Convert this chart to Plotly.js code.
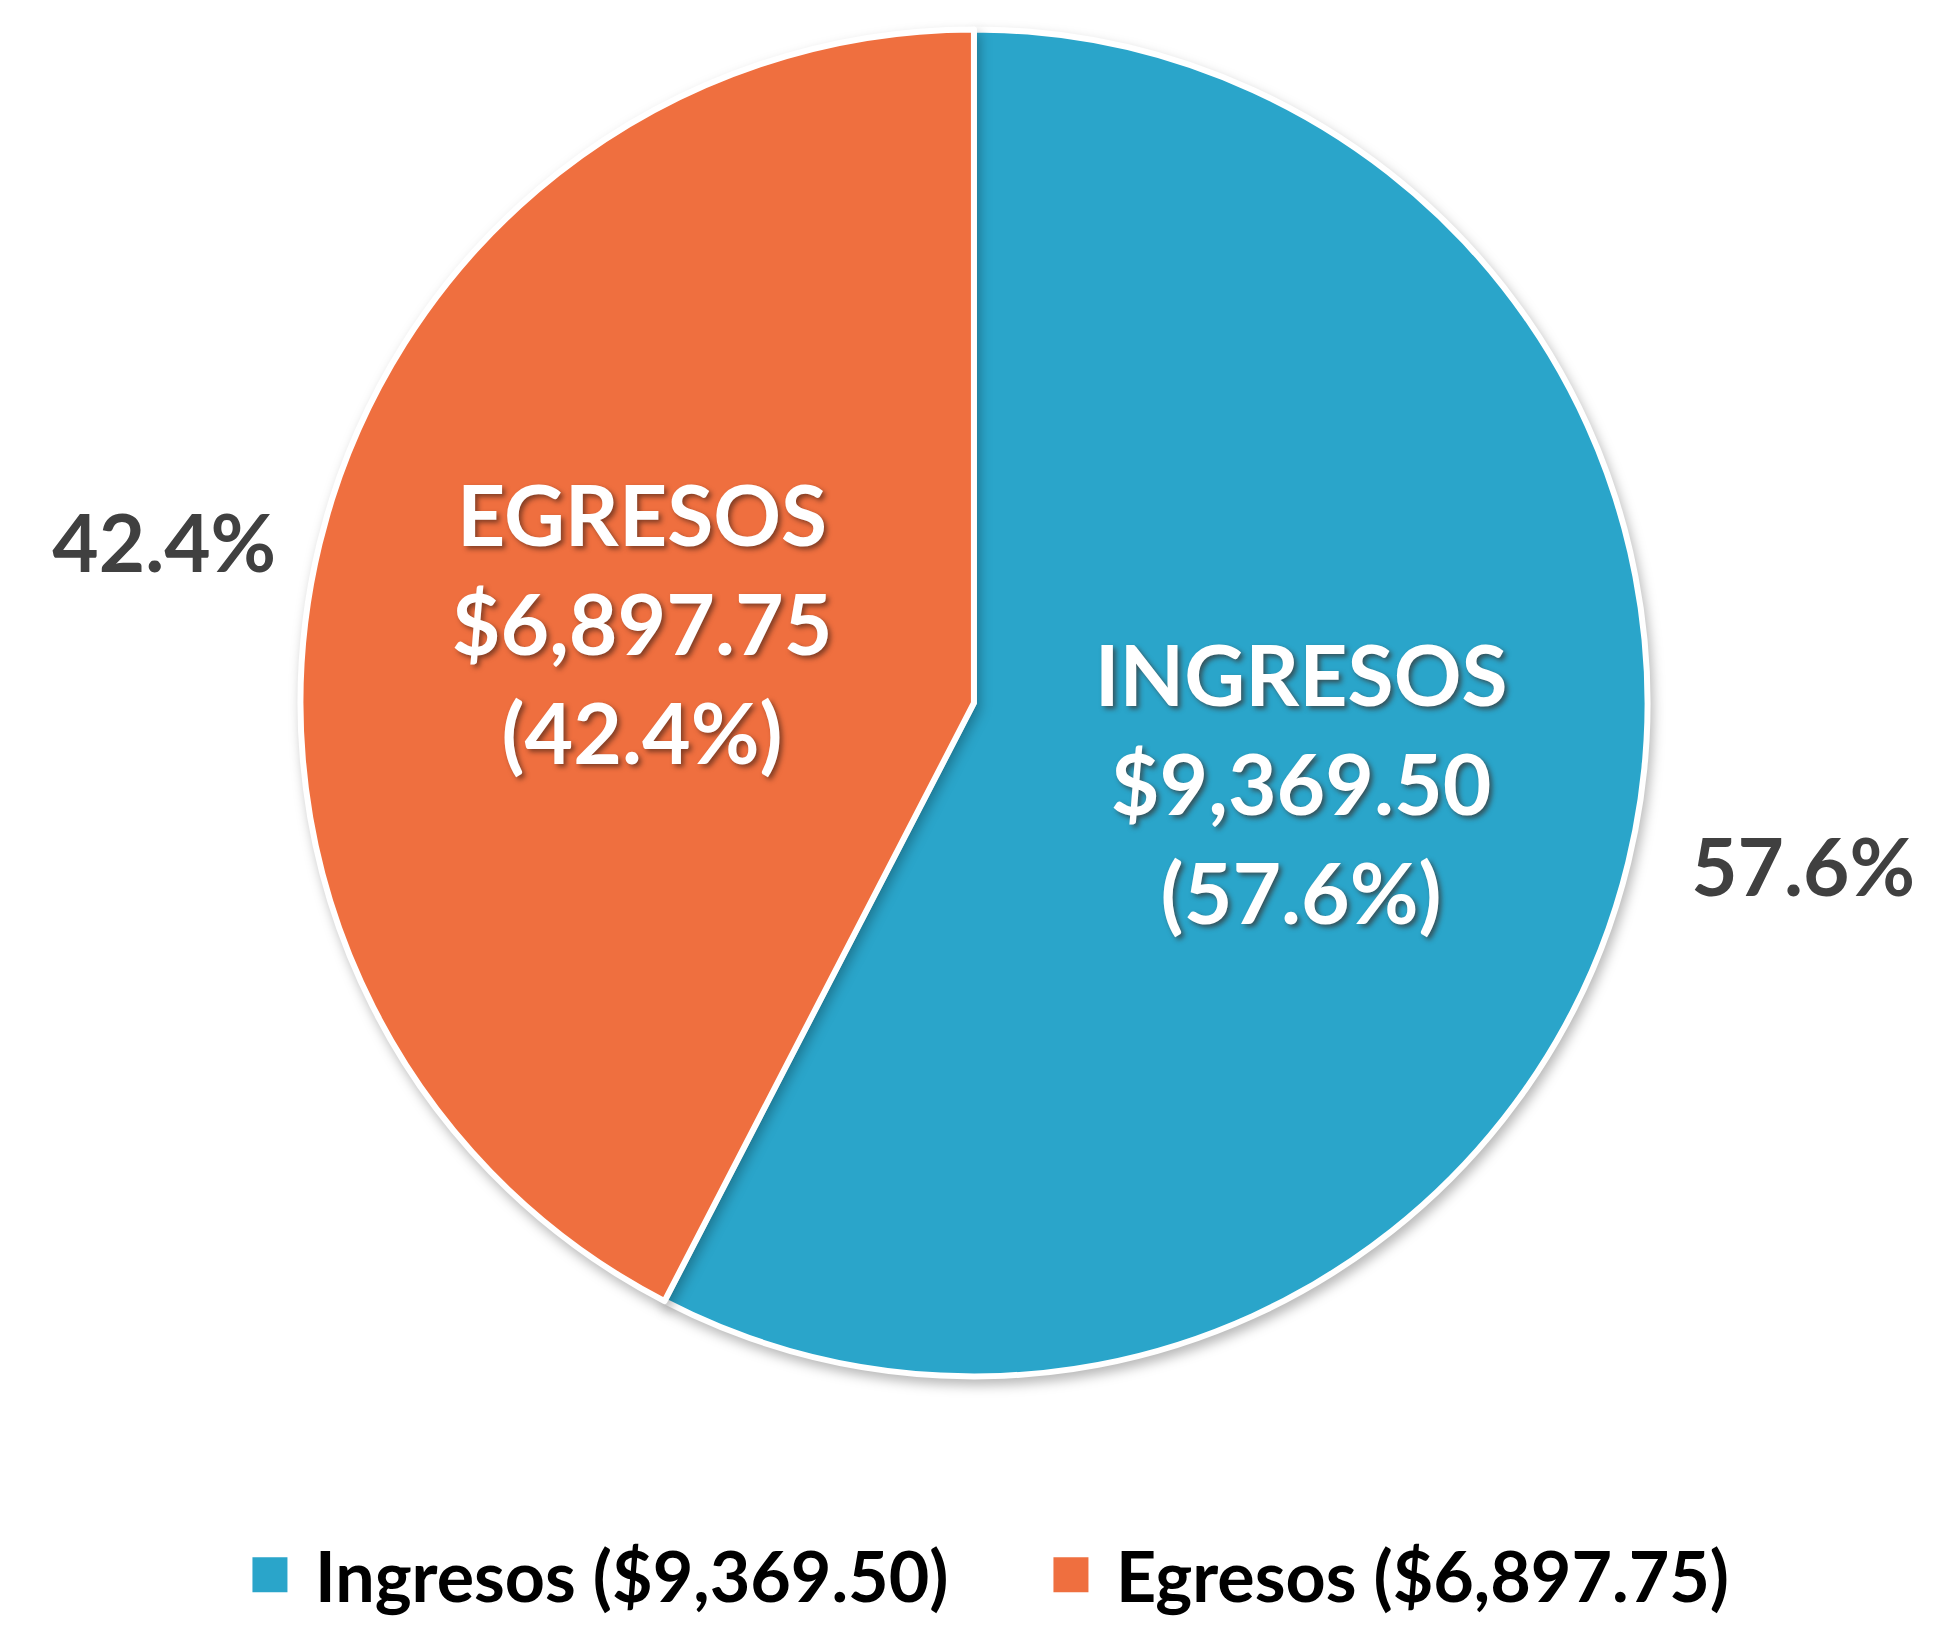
<!DOCTYPE html>
<html>
<head>
<meta charset="utf-8">
<script src="https://cdn.plot.ly/plotly-3.0.1.min.js"></script>
<style>
  html, body { margin: 0; padding: 0; background: #ffffff; }
  #chart { width: 1951px; height: 1627px; }
  .pielayer > g.trace:first-of-type path.surface { filter: drop-shadow(3px 6px 6px rgba(0,0,0,0.28)); }
</style>
</head>
<body>
<div id="chart"></div>
<script>
// ---- data ----
const categories = ["Ingresos", "Egresos"];
const values = [9369.50, 6897.75];
const sliceColors = ["#2AA5CA", "#EF6F3F"];

// ---- derived labels ----
const fmtMoney = v => "$" + v.toLocaleString("en-US", {minimumFractionDigits: 2, maximumFractionDigits: 2});
const legendLabels = categories.map((c, i) => c + " (" + fmtMoney(values[i]) + ")");
const insideNames = categories.map(c => c.toUpperCase());

const FONT = "Lato, 'Open Sans', 'DejaVu Sans', sans-serif";
const NB = "\u00A0";
const domain = {x: [0.1486, 0.8498], y: [0.1408, 0.9816]};

const mainPie = {
  type: "pie",
  labels: legendLabels,
  values: values,
  text: insideNames,
  sort: false,
  direction: "clockwise",
  rotation: 0,
  domain: domain,
  marker: {colors: sliceColors, line: {color: "#ffffff", width: 6}},
  textposition: "inside",
  insidetextorientation: "horizontal",
  texttemplate: "%{text}<br>$%{value:,.2f}<br>(%{percent:.1%})",
  insidetextfont: {
    family: FONT, size: 84, color: "#ffffff", weight: 700,
    shadow: "3px 3px 5px rgba(60,30,20,0.6)"
  },
  hoverinfo: "label+percent",
  showlegend: true
};

const outsidePie = {
  type: "pie",
  labels: legendLabels,
  values: values,
  sort: false,
  direction: "clockwise",
  rotation: 0,
  domain: domain,
  marker: {colors: ["rgba(0,0,0,0)", "rgba(0,0,0,0)"], line: {width: 0}},
  textposition: "outside",
  texttemplate: [NB + NB + "%{percent:.1%}", "%{percent:.1%}" + NB],
  outsidetextfont: {family: FONT, size: 80, color: "#404040", weight: 700},
  hoverinfo: "skip",
  showlegend: false
};

const layout = {
  width: 1951,
  height: 1627,
  margin: {l: 0, r: 0, t: 0, b: 0},
  paper_bgcolor: "#ffffff",
  plot_bgcolor: "#ffffff",
  showlegend: true,
  legend: {
    orientation: "h",
    x: 0.1153, xanchor: "left",
    y: 0.017, yanchor: "middle",
    itemwidth: 80,
    entrywidth: 706,
    entrywidthmode: "pixels",
    font: {family: FONT, size: 70, color: "#000000", weight: 700},
    traceorder: "normal"
  }
};

const gd = document.getElementById("chart");
function bigLegendSquares() {
  gd.querySelectorAll("path.legendpie").forEach(p => {
    p.setAttribute("d", "M20,20H-20V-20H20Z");
  });
}
Plotly.newPlot(gd, [mainPie, outsidePie], layout, {displayModeBar: false}).then(() => {
  bigLegendSquares();
  gd.on("plotly_afterplot", bigLegendSquares);
  setTimeout(bigLegendSquares, 50);
});
</script>
</body>
</html>
